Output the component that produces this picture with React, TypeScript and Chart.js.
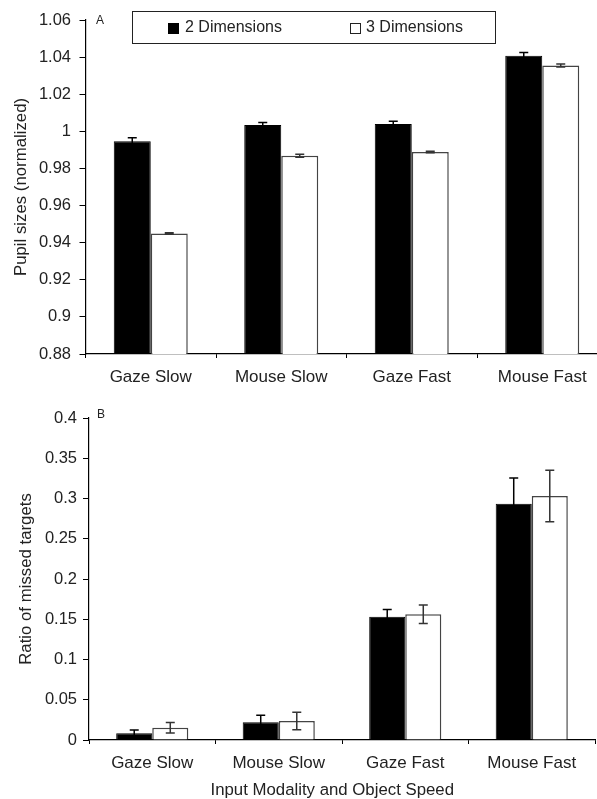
import React, { useEffect, useRef } from "react";
import { Chart, registerables } from "chart.js";

Chart.register(...registerables);

// ---------- data ----------
const categories = ["Gaze Slow", "Mouse Slow", "Gaze Fast", "Mouse Fast"];
const seriesNames = ["2 Dimensions", "3 Dimensions"];

// Panel A: pupil sizes (normalized)
const pupil2D = [0.9946, 1.0034, 1.0039, 1.0407];
const pupil2DErr = [0.002, 0.0013, 0.0015, 0.0018];
const pupil3D = [0.945, 0.9869, 0.9888, 1.0355];
const pupil3DErr = [0.0004, 0.0008, 0.0004, 0.0008];
const pupilTicks = [0.88, 0.9, 0.92, 0.94, 0.96, 0.98, 1, 1.02, 1.04, 1.06];

// Panel B: ratio of missed targets
const missed2D = [0.0083, 0.022, 0.1532, 0.2935];
const missed2DErr = [0.004, 0.0087, 0.009, 0.032];
const missed3D = [0.0153, 0.0236, 0.1561, 0.3031];
const missed3DErr = [0.0065, 0.011, 0.0115, 0.032];
const missedTicks = [0, 0.05, 0.1, 0.15, 0.2, 0.25, 0.3, 0.35, 0.4];

const xAxisTitle = "Input Modality and Object Speed";

const FONT = "'Liberation Sans', Arial, sans-serif";
const TEXT = "#222";

Chart.defaults.font.family = FONT;
Chart.defaults.font.size = 16;
Chart.defaults.color = TEXT;

const errorBarPlugin = {
  id: "errorBars",
  afterDatasetsDraw(chart: any) {
    const ctx = chart.ctx;
    const y = chart.scales.y;
    chart.data.datasets.forEach((ds: any, i: number) => {
      const meta = chart.getDatasetMeta(i);
      meta.data.forEach((bar: any, j: number) => {
        const v = ds.data[j];
        const e = ds.errors[j];
        const yt = y.getPixelForValue(v + e);
        const yb = y.getPixelForValue(v - e);
        const x = bar.x;
        ctx.save();
        ctx.strokeStyle = ds.errorColor;
        ctx.lineWidth = 1.5;
        ctx.beginPath();
        ctx.moveTo(x, yt);
        ctx.lineTo(x, yb);
        ctx.moveTo(x - 4.5, yt);
        ctx.lineTo(x + 4.5, yt);
        ctx.moveTo(x - 4.5, yb);
        ctx.lineTo(x + 4.5, yb);
        ctx.stroke();
        ctx.restore();
      });
    });
  },
};

const fmt = (v: any) => String(+Number(v).toFixed(2));

type PanelCfg = {
  width: number;
  height: number;
  areaLeft: number;
  areaRight: number;
  areaTop: number;
  areaBottom: number;
  titlePad: number;
  yLabelPad: number;
  yTitle: string;
  ticks: number[];
  d2: number[];
  e2: number[];
  d3: number[];
  e3: number[];
  catPct: number;
};

function makeChart(canvas: HTMLCanvasElement, c: PanelCfg) {
  return new Chart(canvas, {
    type: "bar",
    data: {
      labels: categories,
      datasets: [
        {
          label: seriesNames[0],
          data: c.d2,
          errors: c.e2,
          errorColor: "#000",
          backgroundColor: "#000",
          borderColor: "#000",
          borderWidth: 1,
          categoryPercentage: c.catPct,
          barPercentage: 1,
        } as any,
        {
          label: seriesNames[1],
          data: c.d3,
          errors: c.e3,
          errorColor: "#333",
          backgroundColor: "#fff",
          borderColor: "#444",
          borderWidth: 1.5,
          categoryPercentage: c.catPct,
          barPercentage: 1,
        } as any,
      ],
    },
    options: {
      animation: false,
      responsive: false,
      devicePixelRatio: 1,
      layout: {
        padding: {
          left: 0,
          top: c.areaTop,
          right: c.width - c.areaRight,
          bottom: 0,
        },
      },
      plugins: {
        legend: { display: false },
        tooltip: { enabled: false },
      },
      scales: {
        x: {
          type: "category",
          offset: true,
          grid: {
            offset: true,
            drawOnChartArea: false,
            drawTicks: true,
            tickLength: 4,
            color: "#000",
          },
          border: { color: "#000", width: 1.2 },
          ticks: { padding: 9.5, color: TEXT, font: { size: 17 } },
          afterFit: (s: any) => {
            s.height = c.height - c.areaBottom;
          },
        },
        y: {
          type: "linear",
          min: c.ticks[0],
          max: c.ticks[c.ticks.length - 1],
          afterBuildTicks: (s: any) => {
            s.ticks = c.ticks.map((v) => ({ value: v }));
          },
          grid: {
            drawOnChartArea: false,
            drawTicks: true,
            tickLength: 6,
            color: "#000",
          },
          border: { color: "#000", width: 1.2 },
          ticks: {
            padding: c.yLabelPad,
            color: TEXT,
            font: { size: 16.5 },
            callback: (v: any) => fmt(v),
          },
          title: {
            display: true,
            text: c.yTitle,
            color: TEXT,
            font: { size: 16.8 },
            padding: { top: c.titlePad, bottom: 0 },
          },
          afterFit: (s: any) => {
            s.width = c.areaLeft;
          },
        },
      },
    } as any,
    plugins: [errorBarPlugin],
  });
}

function Panel({ cfg, top }: { cfg: PanelCfg; top: number }) {
  const ref = useRef<HTMLCanvasElement | null>(null);
  useEffect(() => {
    if (!ref.current) return;
    const ch = makeChart(ref.current, cfg);
    return () => ch.destroy();
  }, []);
  return (
    <canvas
      ref={ref}
      width={cfg.width}
      height={cfg.height}
      style={{
        position: "absolute",
        left: 0,
        top,
        width: cfg.width,
        height: cfg.height,
        display: "block",
      }}
    />
  );
}

const topCfg: PanelCfg = {
  width: 620,
  height: 400,
  areaLeft: 85.5,
  areaRight: 607.5,
  areaTop: 20,
  areaBottom: 354,
  titlePad: 11.2,
  yLabelPad: 8.5,
  yTitle: "Pupil sizes (normalized)",
  ticks: pupilTicks,
  d2: pupil2D,
  e2: pupil2DErr,
  d3: pupil3D,
  e3: pupil3DErr,
  catPct: 0.567,
};

const bottomCfg: PanelCfg = {
  width: 620,
  height: 399,
  areaLeft: 89,
  areaRight: 595,
  areaTop: 18,
  areaBottom: 340,
  titlePad: 16.6,
  yLabelPad: 6,
  yTitle: "Ratio of missed targets",
  ticks: missedTicks,
  d2: missed2D,
  e2: missed2DErr,
  d3: missed3D,
  e3: missed3DErr,
  catPct: 0.57,
};

const textStyle: React.CSSProperties = {
  position: "absolute",
  fontFamily: FONT,
  fontSize: 16,
  lineHeight: "16px",
  color: TEXT,
  whiteSpace: "nowrap",
};

export default function App() {
  return (
    <div
      style={{
        position: "absolute",
        left: 0,
        top: 0,
        width: 597,
        height: 799,
        overflow: "hidden",
        background: "#fff",
      }}
    >
      <Panel cfg={topCfg} top={0} />
      <Panel cfg={bottomCfg} top={400} />

      {/* Legend */}
      <div
        style={{
          position: "absolute",
          left: 132,
          top: 11,
          width: 364,
          height: 33,
          boxSizing: "border-box",
          border: "1.2px solid #222",
          background: "#fff",
        }}
      >
        <div
          style={{
            position: "absolute",
            left: 35,
            top: 10.5,
            width: 11,
            height: 11,
            background: "#000",
          }}
        />
        <span style={{ ...textStyle, left: 52, top: 7.2 }}>{seriesNames[0]}</span>
        <div
          style={{
            position: "absolute",
            left: 217,
            top: 10.5,
            width: 11,
            height: 11,
            boxSizing: "border-box",
            border: "1.3px solid #222",
            background: "#fff",
          }}
        />
        <span style={{ ...textStyle, left: 233, top: 7.2 }}>{seriesNames[1]}</span>
      </div>

      <span style={{ ...textStyle, fontSize: 12, lineHeight: "12px", left: 96, top: 13.5 }}>A</span>
      <span style={{ ...textStyle, fontSize: 12, lineHeight: "12px", left: 97, top: 407.5 }}>B</span>

      {/* x-axis title of panel B */}
      <span style={{ ...textStyle, fontSize: 16.8, lineHeight: "16.8px", left: 210.5, top: 781.8 }}>
        {xAxisTitle}
      </span>
    </div>
  );
}
